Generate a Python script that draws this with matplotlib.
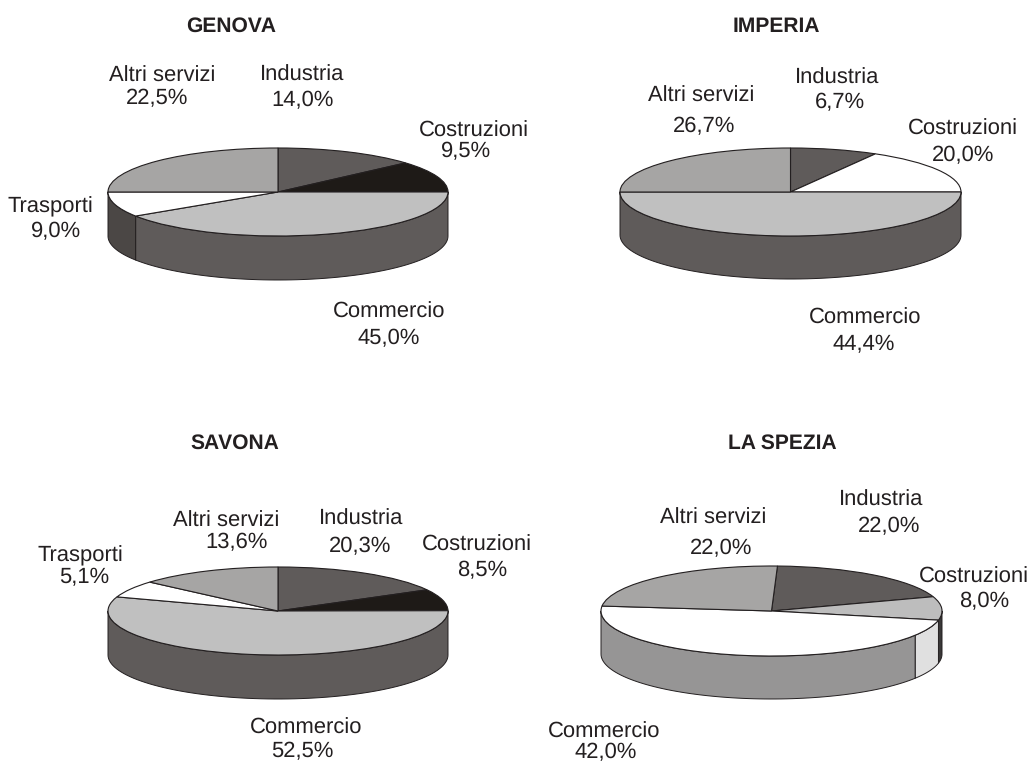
import numpy as np
import matplotlib
matplotlib.use('Agg')
import matplotlib.pyplot as plt

plt.rcParams['font.family'] = ['Liberation Sans', 'DejaVu Sans']
plt.rcParams['text.hinting'] = 'no_hinting'
plt.rcParams['text.hinting_factor'] = 1

W = 1029
H = 761
INK = '#231f20'

# slices run clockwise: Industria, Costruzioni, Commercio, Trasporti, Altri servizi
# the drawn wedges do not follow the printed percentages exactly, so both are kept
province = ['GENOVA', 'IMPERIA', 'SAVONA', 'LA SPEZIA']

genova_names = ['Industria', 'Costruzioni', 'Commercio', 'Trasporti', 'Altri servizi']
genova_text = ['14,0%', '9,5%', '45,0%', '9,0%', '22,5%']
genova_shares = [13.5, 11.5, 40.8, 9.2, 25.0]

imperia_names = ['Industria', 'Costruzioni', 'Commercio', 'Altri servizi']
imperia_text = ['6,7%', '20,0%', '44,4%', '26,7%']
imperia_shares = [8.3, 16.7, 50.0, 25.0]

savona_names = ['Industria', 'Costruzioni', 'Commercio', 'Trasporti', 'Altri servizi']
savona_text = ['20,3%', '8,5%', '52,5%', '5,1%', '13,6%']
savona_shares = [17.0, 7.9, 55.3, 6.2, 13.6]

# La Spezia: the wall has one more piece than the top, unlabelled, white on top
spezia_names = ['Industria', 'Costruzioni', 'Commercio', 'Altri servizi']
spezia_text = ['22,0%', '8,0%', '42,0%', '22,0%']
spezia_shares = [19.3, 8.4, 48.5, 23.8]
spezia_wall_shares = [19.3, 8.4, 5.8, 42.7, 23.8]

# colours
genova_top = ['#5f5b5a', '#1e1a17', '#c0c0c0', '#ffffff', '#a6a5a4']
genova_wall = ['#5f5b5a', '#1e1a17', '#5f5b5a', '#4b4745', '#a6a5a4']
imperia_top = ['#5f5b5a', '#ffffff', '#c0c0c0', '#a6a5a4']
imperia_wall = ['#5f5b5a', '#5f5b5a', '#5f5b5a', '#5f5b5a']
savona_top = genova_top
savona_wall = ['#5f5b5a', '#1e1a17', '#5f5b5a', '#4b4745', '#a6a5a4']
spezia_top = ['#5f5b5a', '#bdbdbd', '#ffffff', '#a6a5a4']
spezia_wall = ['#5f5b5a', '#3a3838', '#e0e0e0', '#969595', '#a6a5a4']

# pie layout in pixels: centre x, centre y, x radius, y radius, wall height, first angle
pie_layout = [
    (278, 192, 170, 44, 44, 90),
    (790.5, 192, 170.5, 44, 43, 90),
    (278, 611, 170, 44, 44, 90),
    (771.5, 611, 170.5, 45, 43, 88),
]

title_pos = [(231, 32), (776, 32), (235, 449), (782.5, 449)]

# centre x and baseline y of each label line: name then percentage
genova_pos = [(302, 81, 302.5, 106), (474, 137, 466, 157), (389, 318, 389, 344),
              (50.5, 212, 56, 237), (162, 82, 157, 104)]
imperia_pos = [(837, 84, 839.5, 108), (963, 135, 963, 161), (865, 324, 864, 350),
               (701, 102, 704, 132)]
savona_pos = [(361, 525, 360, 552), (477, 551, 482, 576), (306, 734, 302, 757),
              (80, 561, 84, 583), (226, 527, 237, 548)]
spezia_pos = [(881, 506, 889, 532), (973.5, 583, 984, 607), (604.5, 738, 606, 758),
              (713, 524, 721, 554)]

all_shares = [genova_shares, imperia_shares, savona_shares, spezia_shares]
all_wall_shares = [genova_shares, imperia_shares, savona_shares, spezia_wall_shares]
all_top = [genova_top, imperia_top, savona_top, spezia_top]
all_wall = [genova_wall, imperia_wall, savona_wall, spezia_wall]
all_names = [genova_names, imperia_names, savona_names, spezia_names]
all_text = [genova_text, imperia_text, savona_text, spezia_text]
all_pos = [genova_pos, imperia_pos, savona_pos, spezia_pos]


def drawPie(fig, shares, wall_shares, top, wall, layout):
    cx, cy, rx, ry, depth, start = layout
    pad = 4
    left = cx - rx - pad
    right = cx + rx + pad
    upper = cy - ry - pad
    lower = cy + ry + depth + pad
    ax = fig.add_axes([left / W, 1 - lower / H, (right - left) / W, (lower - upper) / H])

    # side wall first, only the front half of the disc shows
    edges = start - np.cumsum([0] + list(wall_shares)) * 3.6
    d = depth / ry
    for i in range(len(wall_shares)):
        a = min(edges[i], 0)
        b = max(edges[i + 1], -180)
        if a <= b:
            continue
        t = np.radians(np.linspace(a, b, 80))
        xs = np.concatenate([np.cos(t), np.cos(t[::-1])])
        ys = np.concatenate([np.sin(t), np.sin(t[::-1]) - d])
        ax.fill(xs, ys, facecolor=wall[i], edgecolor=INK, linewidth=0.7, joinstyle='round')

    ax.pie(shares, colors=top, startangle=start, counterclock=False, radius=1,
           wedgeprops={'edgecolor': INK, 'linewidth': 0.8})
    ax.set_aspect('auto')
    ax.set_xlim(-1 - pad / rx, 1 + pad / rx)
    ax.set_ylim(-1 - d - pad / ry, 1 + pad / ry)
    ax.axis('off')
    return ax


def putText(fig, x, y, s, **kw):
    fig.text(x / W, 1 - y / H, s, ha='center', va='baseline', color=INK, **kw)


fig = plt.figure(figsize=(W / 100, H / 100), dpi=100, facecolor='white')

for k in range(4):
    drawPie(fig, all_shares[k], all_wall_shares[k], all_top[k], all_wall[k], pie_layout[k])
    putText(fig, title_pos[k][0], title_pos[k][1], province[k], fontsize=15, fontweight='bold')
    for name, pct, p in zip(all_names[k], all_text[k], all_pos[k]):
        putText(fig, p[0], p[1], name, fontsize=15.6)
        putText(fig, p[2], p[3], pct, fontsize=15.6)

fig.savefig('out.png', dpi=100, facecolor='white')
